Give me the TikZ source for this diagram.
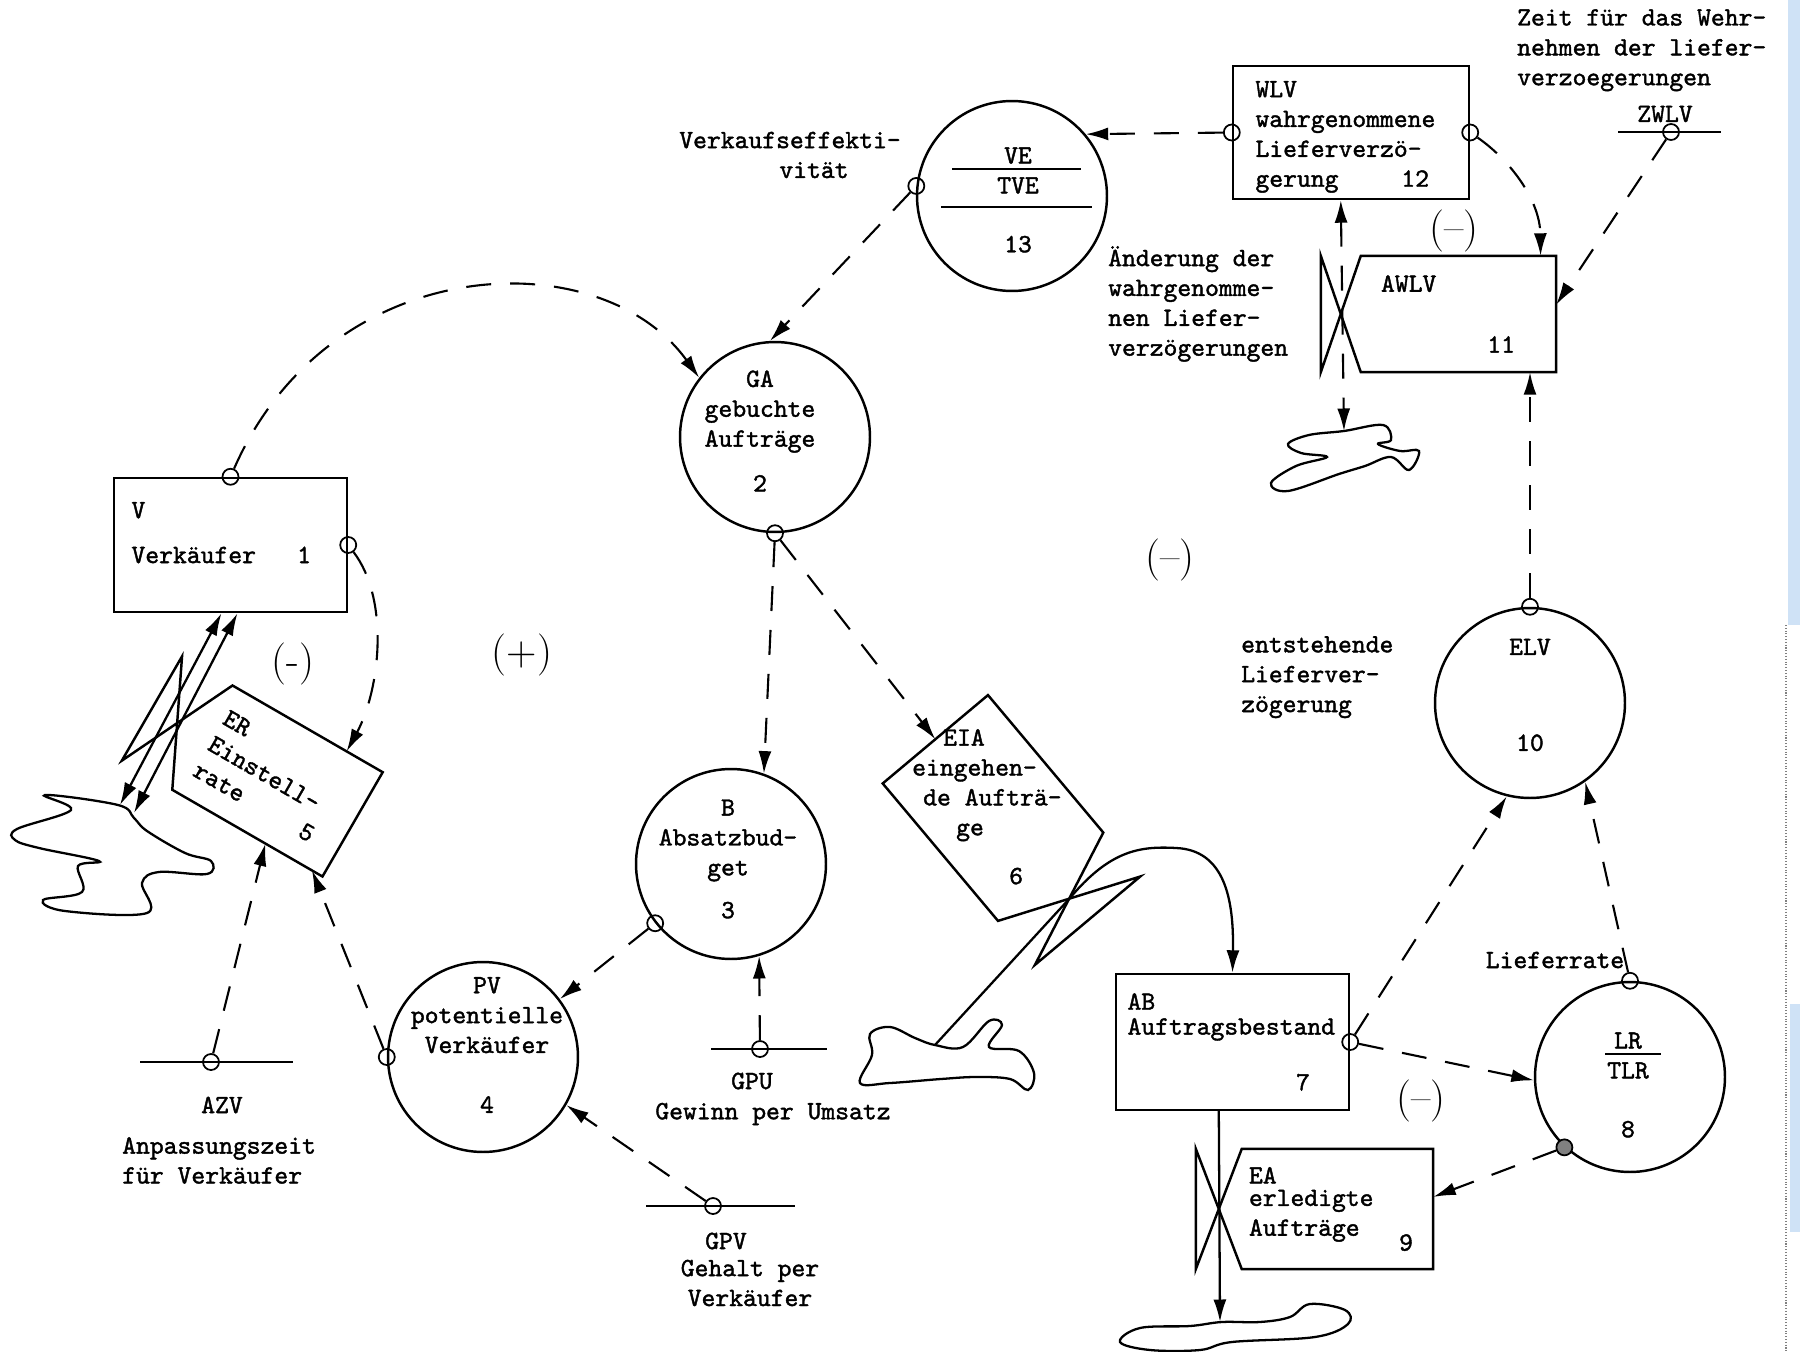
\documentclass[tikz,border=0pt]{standalone}
\usepackage{fontspec}
\usetikzlibrary{arrows.meta,calc}

\newfontfamily\typefont{lmmono10-regular.otf}[RawFeature={embolden=1.5}]
\newcommand\tofar{\hskip 0pt plus 1filll\relax}
\newcommand\padr[1]{\hbox to #1{}}
\definecolor{scanedge}{HTML}{CFE2F6}

\tikzset{
  every node/.style={font=\typefont\fontsize{15}{17}\selectfont},
  level/.style={draw, rectangle, align=left, line width=1.4pt},
  rate/.style={rectangle, align=left},
  aux/.style={draw, circle, minimum size=3.8cm, inner sep=0pt, line width=1.4pt},
  pick/.style={draw, circle, inner sep=0pt, minimum size=0.32cm, line width=1pt},
  info/.style={line width=1.2pt, dash pattern=on 0.5cm off 0.38cm, ->},
  flow/.style={line width=1.3pt, ->},
  sign/.style={font=\rmfamily\fontsize{24}{28}\selectfont},
  cloud/.style={line width=1.3pt},
}

\begin{document}
\begin{tikzpicture}[x=0.02cm, y=-0.02cm, line width=1.4pt, >={Latex[length=0.45cm,width=0.26cm]}]
\useasboundingbox (0,0) rectangle (1800,1352);

% edge of the scan
\fill[scanedge] (1788,0) rectangle (1800,625);
\fill[scanedge] (1790,1004) rectangle (1800,1232);
\draw[gray, line width=0.6pt, densely dotted] (1786,625) -- (1786,1352);

% levels
\node[level, text width=3.96cm, inner xsep=0.35cm, minimum height=2.68cm] (v) at (230.5,545) {V\\[0.3cm]Verkäufer\tofar 1\padr{0.37cm}\\[-0.1cm]\mbox{}};
\node[level, text width=3.82cm, inner xsep=0.45cm, minimum height=2.66cm] (wlv) at (1351,132.5) {\mbox{}\\[-0.1cm]WLV\\wahrgenommene\\Lieferverzö-\\gerung\tofar 12\padr{0.35cm}};
\node[level, text width=4.2cm, inner xsep=0.23cm, minimum height=2.72cm] (ab) at (1232.5,1042) {AB\\[-0.1cm]Auftragsbestand\\[0.52cm]\tofar 7\padr{0.55cm}};

% rates
\node[rate, text width=3.1cm, inner xsep=0.38cm, minimum height=2.28cm] (awlv) at (1458.5,314) {AWLV\\[0.62cm]\tofar 11\padr{0.42cm}};
\node[rate, text width=3.54cm, inner xsep=0.12cm, minimum height=2.36cm] (ea) at (1337.5,1209) {EA\\[-0.15cm]erledigte\\Aufträge\\[-0.3cm]\tofar 9\padr{0.26cm}};
\node[rate, rotate=-30, text width=3.1cm, inner xsep=0.16cm, minimum height=2.36cm] (er) at (277.5,781) {ER\\Einstell-\\rate\tofar 5\padr{0.39cm}};
\node[rate, rotate=-50, minimum width=3.54cm, minimum height=2.7cm] (eia) at (993,808) {};
\node[align=left, anchor=north west, inner sep=0pt] (eia-t) at (911,728) {\hspace*{0.62cm}EIA\\eingehen-\\\hspace*{0.22cm}de Aufträ-\\\hspace*{0.88cm}ge\\[0.38cm]\hspace*{1.94cm}6};

% valves
\draw (awlv.north west) -- (awlv.north east) -- (awlv.south east) -- (awlv.south west)
  -- ($(awlv.north west)+(-40,0)$) -- ($(awlv.south west)+(-40,0)$) -- cycle;
\draw (ea.north west) -- (ea.north east) -- (ea.south east) -- (ea.south west)
  -- ($(ea.north west)+(-46,0)$) -- ($(ea.south west)+(-46,0)$) -- cycle;
\draw (er.north west) -- (er.north east) -- (er.south east) -- (er.south west)
  -- ($(er.north west)!-0.336!(er.north east)$) -- ($(er.south west)!-0.336!(er.south east)$) -- cycle;
\draw (eia.north east) -- (eia.north west) -- (eia.south west) -- (eia.south east)
  -- ($(eia.north east)!-0.32!(eia.north west)$) -- ($(eia.south east)!-0.32!(eia.south west)$) -- cycle;
\coordinate (awlv-v) at ($(awlv.west)+(-20,0)$);
\coordinate (ea-v) at ($(ea.west)+(-23,0)$);
\coordinate (eia-v) at ($(eia.east)!-0.161!(eia.west)$);

% auxiliaries
\node[aux] (n13) at (1012,196) {};
\node[aux] (ga) at (775,437) {};
\node[aux] (b) at (731,864) {};
\node[aux] (pv) at (483,1057) {};
\node[aux] (elv) at (1530,703) {};
\node[aux] (lr) at (1630,1077) {};
\node[align=center] (n13-t) at (1018,200) {VE\\TVE\\[0.58cm]13};
\draw[line width=1pt] ($(n13)+(-60,-27)$) -- ++(129,0);
\draw[line width=1pt] ($(n13)+(-71,11)$) -- ++(151,0);
\node[align=center] (ga-t) at (760,431) {GA\\gebuchte\\Aufträge\\[0.3cm]2};
\node[align=center] (b-t) at (728,859) {B\\Absatzbud-\\get\\[0.26cm]3};
\node[align=center] (pv-t) at (487,1045) {PV\\potentielle\\Verkäufer\\[0.6cm]4};
\node[align=center] (elv-t) at (1530,695) {ELV\\[1.32cm]10};
\node[align=center] (lr-t) at (1628,1085) {LR\\TLR\\[0.58cm]8};
\draw[line width=1pt] ($(lr)+(-25,-23)$) -- ++(56,0);

% constants
\draw[line width=1pt] (140,1062) -- (293,1062);
\draw[line width=1pt] (711,1049) -- (827,1049);
\draw[line width=1pt] (646,1206) -- (795,1206);
\draw[line width=1pt] (1618,132) -- (1721,132);
\node[pick] (azv) at (211,1062) {};
\node[pick] (gpu) at (760,1049) {};
\node[pick] (gpv) at (713,1206) {};
\node[pick] (zwlv) at (1671,132) {};

% pick-off points
\node[pick] (v-top) at (v.north) {};
\node[pick] (v-r) at (v.east) {};
\node[pick] (ga-bot) at (ga.south) {};
\node[pick] (n13-l) at (n13.174) {};
\node[pick] (wlv-l) at (wlv.west) {};
\node[pick] (wlv-r) at (wlv.east) {};
\node[pick] (b-l) at (b.218) {};
\node[pick] (pv-l) at (pv.180) {};
\node[pick] (elv-top) at (elv.north) {};
\node[pick] (lr-top) at (lr.north) {};
\node[pick, fill=gray] (lr-ll) at (lr.-133) {};
\node[pick] (ab-r) at (ab.east) {};

% information links
\draw[info] (v-top) .. controls (330,250) and (600,240) .. (ga.142);
\draw[info] (v-r) .. controls (390,600) and (380,690) .. ($(er.north west)!0.76!(er.north east)$);
\draw[info] (n13-l) -- (ga.93);
\draw[info] (wlv-l) -- (n13.40);
\draw[info] (wlv-r) .. controls (1510,160) and (1540,200) .. ($(awlv.north west)!0.92!(awlv.north east)$);
\draw[info] (zwlv) -- ($(awlv.north east)!0.42!(awlv.south east)$);
\draw[info] (elv-top) -- (elv-top |- awlv.south);
\draw[info] (ga-bot) -- (b.70);
\draw[info] (ga-bot) -- (eia.west);
\draw[info] (b-l) -- (pv.37);
\draw[info] (gpu) -- (b.-73);
\draw[info] (gpv) -- (pv.-30);
\draw[info] (azv) -- ($(er.south west)!0.62!(er.south east)$);
\draw[info] (pv-l) -- ($(er.south west)!0.93!(er.south east)$);
\draw[info] (ab-r) -- (elv.-104);
\draw[info] (ab-r) -- (lr.182);
\draw[info] (lr-top) -- (elv.-55);
\draw[info] (lr-ll) -- ($(ea.north east)!0.4!(ea.south east)$);

% flows
\coordinate (cl-awlv) at (1344,431);
\coordinate (cl-ea) at (1220,1322);
\coordinate (cl-eia) at (935,1045);
\coordinate (cl-er-a) at (120,805);
\coordinate (cl-er-b) at (134,813);
\draw[info, <->] (wlv.south -| awlv-v) -- (cl-awlv);
\draw[flow] (ab.south -| ea-v) -- (cl-ea);
\draw[flow] (cl-eia) -- (eia-v) .. controls (1110,850) and (1140,846) .. (1176,848)
  .. controls (1225,850) and (1234,900) .. (ab.north);
\draw[flow, <->] (cl-er-a) -- ($(v.south)+(-9,0)$);
\draw[flow, <->] (cl-er-b) -- ($(v.south)+(7,0)$);

% clouds
\draw[cloud] plot[smooth cycle, tension=0.6] coordinates {(118,805) (45,795) (71,810) (17,829) (15,840) (39,848) (99,861) (78,866) (82,892) (43,900) (65,911) (147,913) (142,883) (159,872) (207,874) (211,861) (185,853) (147,831) (134,818)};
\draw[cloud] plot[smooth cycle, tension=0.6] coordinates {(1344,431) (1383,425) (1391,440) (1378,444) (1400,451) (1419,451) (1409,470) (1391,457) (1365,466) (1339,474) (1288,491) (1271,483) (1296,466) (1327,457) (1301,453) (1288,444) (1309,435)};
\draw[cloud] plot[smooth cycle, tension=0.6] coordinates {(935,1045) (963,1047) (989,1021) (1002,1025) (989,1047) (1019,1051) (1034,1073) (1028,1090) (1010,1079) (976,1077) (941,1079) (890,1083) (860,1083) (872,1055) (870,1034) (890,1027) (915,1038)};
\draw[cloud] plot[smooth cycle, tension=0.6] coordinates {(1222,1322) (1260,1322) (1290,1317) (1310,1304) (1345,1310) (1348,1324) (1315,1337) (1232,1342) (1200,1350) (1150,1350) (1120,1342) (1140,1328) (1190,1326)};

% labels
\node[align=left, anchor=north west, inner sep=0pt] (zwlv-t) at (1516,8) {Zeit für das Wehr-\\nehmen der liefer-\\verzoegerungen};
\node (zwlv-n) at (1665,114) {ZWLV};
\node[align=center] (ve-t) at (790,155) {Verkaufseffekti-\\\hspace*{0.96cm}vität};
\node[align=left, anchor=north west, inner sep=0pt] (awlv-t) at (1107,245) {Änderung der\\wahrgenomme-\\nen Liefer-\\verzögerungen};
\node[align=left, anchor=north west, inner sep=0pt] (elv-l) at (1240,635) {entstehende\\Lieferver-\\zögerung};
\node (lr-l) at (1555,960) {Lieferrate};
\node (azv-n) at (222,1105) {AZV};
\node[align=left, anchor=north west, inner sep=0pt] (azv-l) at (121,1136) {Anpassungszeit\\für Verkäufer};
\node (gpu-n) at (752,1081) {GPU};
\node (gpu-l) at (773,1114) {Gewinn per Umsatz};
\node (gpv-n) at (726,1241) {GPV};
\node[align=center] (gpv-l) at (750,1283) {Gehalt per\\Verkäufer};

% loop signs
\node[sign] (s1) at (293,664) {(-)};
\node[sign] (s2) at (522,655) {(+)};
\node[sign] (s3) at (1170,560) {(--)};
\node[sign] (s4) at (1454,231) {(--)};
\node[sign] (s5) at (1421,1101) {(--)};
\end{tikzpicture}
\end{document}
